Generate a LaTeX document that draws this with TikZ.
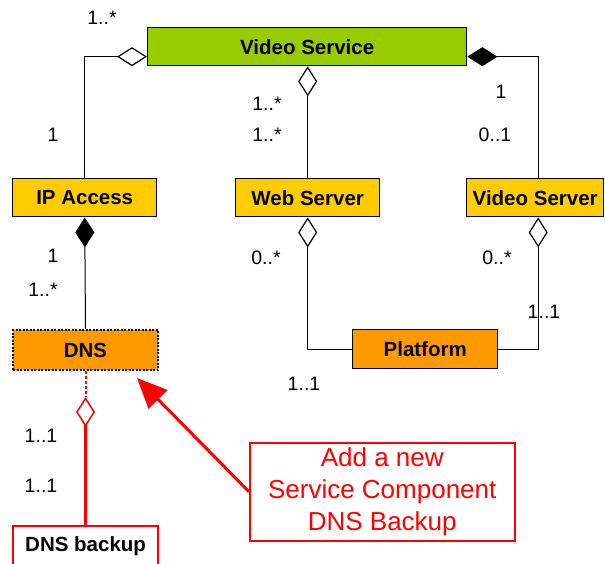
\documentclass[tikz,border=0pt]{standalone}
\usepackage{fontspec}
\setmainfont{Liberation Sans}
\usetikzlibrary{arrows.meta,calc}
\definecolor{vgreen}{HTML}{99CC00}
\definecolor{vyellow}{HTML}{FFCC00}
\definecolor{vorange}{HTML}{FF9900}
\definecolor{vred}{HTML}{FF0000}
\tikzset{
  odia/.tip={Diamond[open,length=30pt,width=19pt,line width=1.2pt]},
  fdia/.tip={Diamond[length=30pt,width=19pt]},
  rdia/.tip={Diamond[open,length=30pt,width=19pt,line width=1.5pt]},
}
\begin{document}
\begin{tikzpicture}[x=1pt,y=-1pt,
  box/.style={draw=black, line width=1.4pt, font=\fontsize{20.5}{24}\selectfont\bfseries,
    inner sep=0pt, minimum height=38pt, anchor=north west},
  mult/.style={font=\fontsize{19.5}{23}\selectfont, inner sep=0pt, anchor=center},
  conn/.style={draw=black, line width=1pt},
]
\useasboundingbox (0,0) rectangle (605,564);
\fill[white] (0,0) rectangle (605,564);

% boxes
\node[box, fill=vgreen, minimum width=319pt] (vs) at (147,27) {Video Service};
\node[box, fill=vyellow, minimum width=144pt] (ip) at (12,178) {IP Access};
\node[box, fill=vyellow, minimum width=144pt] (ws) at (235,178) {Web Server};
\node[box, fill=vyellow, minimum width=137pt] (vsv) at (466,178) {Video Server};
\node[box, fill=vorange, minimum width=145pt, minimum height=40pt, draw=black,
      dash pattern=on 2pt off 1.5pt, line width=2pt] (dns) at (12,329) {DNS};
\node[box, fill=vorange, minimum width=145pt, minimum height=39pt] (pf) at (352,329) {Platform};
\node[box, fill=white, draw=vred, line width=2.2pt, minimum width=145pt, minimum height=40pt] (dnsb) at (12,525) {DNS backup};
\node[draw=vred, line width=1.5pt, text=vred, align=center, inner sep=0pt,
      font=\fontsize{26}{32}\selectfont, minimum width=265pt, minimum height=98pt,
      anchor=north west] (co) at (249,442) {Add a new\\Service Component\\DNS Backup};

% connectors
\coordinate (vsL) at ($(vs.west)+(0,10)$);
\coordinate (vsR) at ($(vs.east)+(0,10)$);
\coordinate (vsvN) at ($(vsv.north)+(3,0)$);
\coordinate (vsvS) at ($(vsv.south)+(3,0)$);
\draw[conn, -odia] (ip.north) |- (vsL);
\draw[conn, odia-] (vs.south -| ws.north) -- (ws.north);
\draw[conn, -fdia] (vsvN) |- (vsR);
\draw[conn, fdia-] (ip.south) -- (dns.north);
\draw[conn, odia-] (ws.south) |- (pf.west);
\draw[conn, odia-] (vsvS) |- (pf.east);

\coordinate (dm) at ($(dns.south)+(0,26)$);
\draw[vred, line width=2pt, dash pattern=on 3pt off 2pt] (dns.south) -- (dm);
\draw[vred, line width=3pt, rdia-] (dm) -- (dnsb.north);

\coordinate (tip) at ($(dns.south east)+(-22,7)$);
\draw[vred, line width=3pt, -{Triangle[length=30pt,width=26pt]}] (co.west) -- (tip);

% multiplicities
\node[mult] (m1) at (102,18) {1..*};
\node[mult] (m2) at (53,135) {1};
\node[mult] (m3) at (267,104) {1..*};
\node[mult] (m4) at (267,135) {1..*};
\node[mult] (m5) at (501,92) {1};
\node[mult] (m6) at (495,135) {0..1};
\node[mult] (m7) at (53,256) {1};
\node[mult] (m8) at (43,290) {1..*};
\node[mult] (m9) at (266,258) {0..*};
\node[mult] (m10) at (497,258) {0..*};
\node[mult] (m11) at (544,312) {1..1};
\node[mult] (m12) at (304,384) {1..1};
\node[mult] (m13) at (41,436) {1..1};
\node[mult] (m14) at (41,486) {1..1};
\end{tikzpicture}
\end{document}
